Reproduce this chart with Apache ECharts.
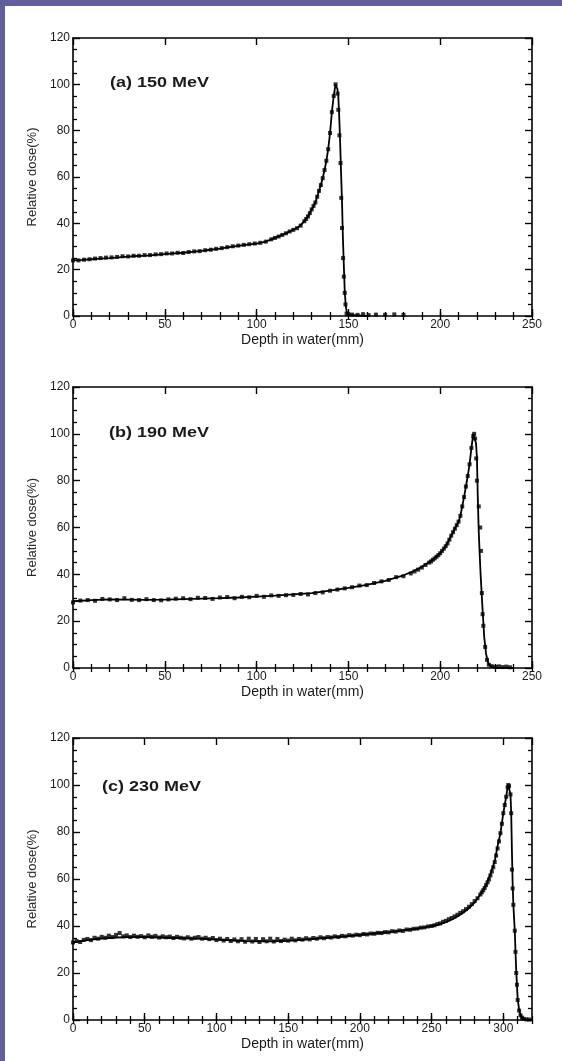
<!DOCTYPE html>
<html><head><meta charset="utf-8">
<script src="https://cdn.jsdelivr.net/npm/echarts@6/dist/echarts.min.js"></script>
<style>html,body{margin:0;padding:0;background:#fff}#c{width:562px;height:1061px}</style>
</head><body><div id="c"></div>
<script>
// ---------- data ----------
const panelLabels = ['(a) 150 MeV', '(b) 190 MeV', '(c) 230 MeV'];
const xMaxes = [250, 250, 320];
const xName = 'Depth in water(mm)';
const yName = 'Relative dose(%)';

// (a) 150 MeV  calculated curve
const lineDepthA = [0,5,10,15,20,25,30,35,40,45,50,55,60,65,70,75,80,85,90,95,100,105,110,115,120,123,126,128,130,132,134,136,137,138,139,140,141,142,143,143.5,144,144.5,145,145.5,146,146.5,147,147.5,148,148.5,149,150,151,160];
const lineDoseA  = [24,24.2,24.5,24.8,25,25.3,25.6,25.9,26.1,26.4,26.7,27,27.3,27.7,28.1,28.6,29.1,29.7,30.3,30.8,31.2,32.1,33.7,35.4,37.2,38.5,40.9,43,46,49,54,59.5,63,67,72,79,88,95,100,100,98,95,86,75,62,50,34,22,11,5,2,0.5,0,0];
// (a) measured points
const measDepthA = [0,3,6,9,12,15,18,21,24,27,30,33,36,39,42,45,48,51,54,57,60,63,66,69,72,75,78,81,84,87,90,93,96,99,102,105,108,110,112,114,116,118,120,122,124,126,127,128,129,130,131,132,133,134,135,136,137,138,139,140,141,142,143,144.1,144.5,145.1,145.7,146.1,146.5,147.1,147.5,148,148.4,149,150,152,155,158,161,165,170,175,180];
const measDoseA  = [24,24,24.3,24.5,24.8,25,25.2,25.3,25.5,25.8,25.7,26,26,26.3,26.3,26.6,26.7,27,27,27.3,27.2,27.6,27.9,28,28.4,28.6,29,29.3,29.7,30.1,30.4,30.7,31,31.3,31.6,32.1,33.1,33.7,34.3,35,35.7,36.5,37.2,37.9,39,40.9,41.9,43,44.4,46,47.5,49,51.5,54,56.5,59.5,63,67,72,79,88,95,100,96,89,78,66,51,38,25,17,10,5,1,0.8,0.6,0.5,0.8,0.4,0.6,0.5,0.7,0.5];

// (b) 190 MeV  calculated curve
const lineDepthB = [0,10,20,30,40,50,60,70,80,90,100,110,120,130,140,150,160,170,180,185,190,195,200,203,206,208,210,211,212,213,214,215,216,217,218,219,219.5,220,220.5,221,222,223,224,225,226,227,228,230,240];
const lineDoseB  = [28.5,29,29.3,29.2,29.1,29.2,29.4,29.6,29.8,30.1,30.5,30.9,31.4,32,33,34.2,35.5,37.2,39.6,41.2,43.2,45.8,49,52,56.5,59.5,62.5,65,69,73,77.5,82,87,94,100,100,96,90,72,58,40,26,13,6,2.5,1,0.3,0,0];
// (b) measured points
const measDepthB = [0,4,8,12,16,20,24,28,32,36,40,44,48,52,56,60,64,68,72,76,80,84,88,92,96,100,104,108,112,116,120,124,128,132,136,140,144,148,152,156,160,164,168,172,176,180,184,186,188,190,192,194,195,196,197,198,199,200,201,202,203,204,205,206,207,208,209,210,211,212,213,214,215,216,217,218,218.5,219,219.6,220,221,221.8,222.2,222.7,223.1,223.5,224.5,225.5,226.5,228,230,232,234,236,238];
const measDoseB  = [28,28.8,29,28.7,29.5,29.3,29,29.8,29.1,29,29.4,29,28.9,29.3,29.6,29.8,29.4,30,29.9,29.5,30.1,30.3,29.8,30.4,30.2,30.8,30.4,31,30.8,31.1,31.2,31.6,31.4,32,32.3,33,33.5,34,34.5,35.2,35.4,36.3,37,37.6,38.8,39.2,40.4,41.2,42,42.9,44,45,45.5,46.2,46.8,47.5,48.2,49,50,51,52,53.2,54.8,56.5,58,59.5,61,62.5,65,69,73,77.5,82,87,94,99,100,98,89.5,80,69,60,50,32,23,18,9,3.5,1.4,0.8,0.5,0.7,0.4,0.6,0.3];

// (c) 230 MeV  calculated curve
const lineDepthC = [0,5,10,20,30,40,50,60,70,80,90,100,110,120,130,140,150,160,170,180,190,200,210,220,230,240,250,255,260,265,270,275,280,284,288,291,294,296,298,300,302,303,303.5,304,305,305.5,306,306.5,307,308,308.5,309,309.5,310,311,312,313,314,316,320];
const lineDoseC  = [33,33.5,34,34.6,35.1,35.3,35.3,35.1,34.9,34.7,34.5,34.2,33.9,33.6,33.5,33.5,33.7,34.1,34.6,35.1,35.6,36.2,36.8,37.4,38.1,38.9,39.9,40.6,41.6,43,44.8,47,50,53.5,57.5,62,67.5,74,79.5,88,95,99,100,99.5,96,88,72,58,49,38,29,21,15,9,4.5,2,1,0.4,0,0];
// (c) measured points
const measDepthC = [0,2.5,5,7.5,10,12.5,15,17.5,20,22.5,25,27.5,30,32.5,35,37.5,40,42.5,45,47.5,50,52.5,55,57.5,60,62.5,65,67.5,70,72.5,75,77.5,80,82.5,85,87.5,90,92.5,95,97.5,100,102.5,105,107.5,110,112.5,115,117.5,120,122.5,125,127.5,130,132.5,135,137.5,140,142.5,145,147.5,150,152.5,155,157.5,160,162.5,165,167.5,170,172.5,175,177.5,180,182.5,185,187.5,190,192.5,195,197.5,200,202.5,205,207.5,210,212.5,215,217.5,220,222.5,225,227.5,230,232.5,235,237.5,240,242.5,245,247.5,250,252,254,256,258,260,262,264,266,268,270,272,274,276,278,280,282,284,285,286,287,288,289,290,291,292,293,294,295,296,297,298,299,300,301,302,303,303.5,304,305,305.5,306,306.5,307,308,308.5,309,309.5,310,311,312,313,314,316,318];
const measDoseC  = [33,33.6,33.2,34.1,34.5,34,35,34.6,35.4,35,35.9,35.3,36.2,37,35.6,36,35.3,35.9,35.4,35.7,35.2,36,35.4,35.8,35.1,35.6,35.2,35.5,34.9,35.4,35,34.7,35.2,34.6,35,35.3,34.6,35,34.4,34.9,34,34.6,33.8,34.5,33.6,34.3,33.5,34.4,33.3,34.6,33.4,34.5,33.2,34.4,33.5,34.6,33.4,34.5,33.6,34.2,33.8,34.6,33.9,34.5,34.2,34.8,34.3,34.9,34.6,35.2,34.8,35.3,35.1,35.6,35.3,35.8,35.6,36.1,35.9,36.3,36.1,36.6,36.4,36.8,36.7,37.1,37,37.4,37.3,37.8,37.6,38.1,37.9,38.5,38.4,38.8,38.9,39.3,39.4,39.8,40,40.3,40.8,41.1,41.8,42.2,42.9,43.4,44.1,44.8,45.6,46.3,47.2,48.2,49.3,50.6,51.8,53.4,54.3,55.2,56.2,57.4,58.6,59.8,61.5,63.2,65,67.2,70,73,76,79.5,83.5,88,91.5,95,99,100,99.5,96,88,64,56,49,38,29,20,15,8.5,4,2,1,0.5,0.3,0.2];

const lineDepths = [lineDepthA, lineDepthB, lineDepthC];
const lineDoses  = [lineDoseA, lineDoseB, lineDoseC];
const measDepths = [measDepthA, measDepthB, measDepthC];
const measDoses  = [measDoseA, measDoseB, measDoseC];

// ---------- layout / style ----------
const grids = [
  {left: 73, right: 30, top: 38, height: 278},
  {left: 73, right: 30, top: 387, height: 281},
  {left: 73, right: 30, top: 738, height: 282}
];
const labelTops = [75, 425, 779];
const labelLefts = [110, 109, 102];
const FONT = '"Liberation Sans", Arial, sans-serif';
const INK = '#000';
const TXT = '#1a1a1a';

const xAxes = [], yAxes = [], series = [], graphics = [];
grids.forEach((g, i) => {
  const max = xMaxes[i];
  const lineCommon = {show: true, onZero: false, lineStyle: {color: INK, width: 1.6}};
  xAxes.push({gridIndex: i, type: 'value', min: 0, max: max, interval: 50, position: 'bottom',
    axisLine: lineCommon,
    axisTick: {inside: true, length: 7, lineStyle: {color: INK, width: 1.4}},
    axisLabel: {color: TXT, fontSize: 12, fontFamily: FONT, margin: 3, showMaxLabel: i < 2},
    splitLine: {show: false},
    name: xName, nameLocation: 'middle', nameGap: 17,
    nameTextStyle: {color: TXT, fontSize: 14, fontFamily: FONT}
  });
  xAxes.push({gridIndex: i, type: 'value', min: 0, max: max, interval: 10, position: 'bottom',
    axisLine: {show: false}, axisTick: {inside: true, length: 4, lineStyle: {color: INK, width: 1.3}},
    axisLabel: {show: false}, splitLine: {show: false}});
  xAxes.push({gridIndex: i, type: 'value', min: 0, max: max, interval: 50, position: 'top',
    axisLine: lineCommon, axisTick: {inside: true, length: 7, lineStyle: {color: INK, width: 1.4}},
    axisLabel: {show: false}, splitLine: {show: false}});
  xAxes.push({gridIndex: i, type: 'value', min: 0, max: max, interval: 10, position: 'top',
    axisLine: {show: false}, axisTick: {inside: true, length: 4, lineStyle: {color: INK, width: 1.3}},
    axisLabel: {show: false}, splitLine: {show: false}});
  yAxes.push({gridIndex: i, type: 'value', min: 0, max: 120, interval: 20, position: 'left',
    axisLine: lineCommon,
    axisTick: {inside: true, length: 7, lineStyle: {color: INK, width: 1.4}},
    minorTick: {show: true, splitNumber: 4, length: 4, lineStyle: {color: INK, width: 1.3}},
    axisLabel: {color: TXT, fontSize: 12, fontFamily: FONT, margin: 3},
    splitLine: {show: false}, minorSplitLine: {show: false},
    name: yName, nameLocation: 'middle', nameGap: 28,
    nameTextStyle: {color: '#2a2a2a', fontSize: 13, fontFamily: FONT}
  });
  yAxes.push({gridIndex: i, type: 'value', min: 0, max: 120, interval: 20, position: 'right',
    axisLine: lineCommon,
    axisTick: {inside: true, length: 7, lineStyle: {color: INK, width: 1.4}},
    minorTick: {show: true, splitNumber: 4, length: 4, lineStyle: {color: INK, width: 1.3}},
    axisLabel: {show: false}, splitLine: {show: false}, minorSplitLine: {show: false}});

  series.push({type: 'line', xAxisIndex: i * 4, yAxisIndex: i * 2,
    data: lineDepths[i].map((d, k) => [d, lineDoses[i][k]]),
    showSymbol: false, symbol: 'none', lineStyle: {color: '#000', width: 1.8}, z: 3, animation: false});
  series.push({type: 'scatter', xAxisIndex: i * 4, yAxisIndex: i * 2,
    data: measDepths[i].map((d, k) => [d, measDoses[i][k]]),
    symbol: 'rect', symbolSize: 4, itemStyle: {color: '#000'}, z: 4, animation: false});

  graphics.push({type: 'text', left: labelLefts[i], top: labelTops[i], scaleX: 1.2,
    style: {text: panelLabels[i], font: 'bold 15px ' + FONT, fill: '#1a1a1a'}});
});

// purple frame of the slide
graphics.push({type: 'rect', left: 0, top: 0, shape: {width: 562, height: 6}, style: {fill: '#625e9c'}, z: 10});
graphics.push({type: 'rect', left: 0, top: 0, shape: {width: 5, height: 1061}, style: {fill: '#625e9c'}, z: 10});

const chart = echarts.init(document.getElementById('c'), null, {renderer: 'canvas'});
chart.setOption({
  backgroundColor: '#ffffff',
  animation: false,
  grid: grids,
  xAxis: xAxes,
  yAxis: yAxes,
  series: series,
  graphic: graphics
});
</script>
</body></html>
